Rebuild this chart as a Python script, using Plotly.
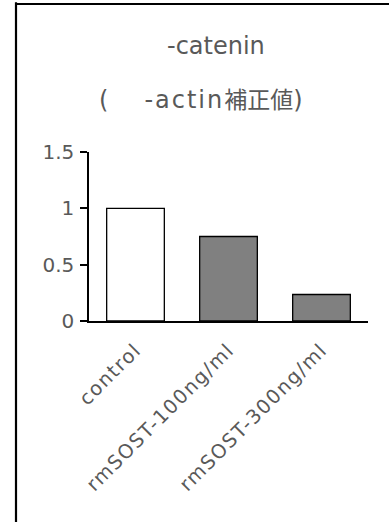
import plotly.graph_objects as go

categories = ["control", "rmSOST-100ng/ml", "rmSOST-300ng/ml"]
values = [1.0, 0.75, 0.235]
bar_colors = ["#FFFFFF", "#808080", "#808080"]
title_line1 = "-catenin"
title_line2_parts = ["(", "-actin", "補正値", ")"]
y_ticks = [0, 0.5, 1, 1.5]
y_tick_labels = ["0", "0.5", "1", "1.5"]

W, H = 389, 522
L, R, T, B = 89, 21, 152, 201
pw, ph = W - L - R, H - T - B

def px(x):
    return (x - L) / pw

def py(y):
    return (H - B - y) / ph

FONT = "DejaVu Sans, Liberation Sans, sans-serif"
GRAY = "#595959"

fig = go.Figure()
fig.add_trace(go.Bar(
    x=categories, y=values,
    marker=dict(color=bar_colors, line=dict(color="#000000", width=1.3)),
    width=0.62,
))

fig.update_layout(
    width=W, height=H,
    margin=dict(l=L, r=R, t=T, b=B),
    plot_bgcolor="white", paper_bgcolor="white",
    showlegend=False,
    font=dict(family=FONT, color=GRAY),
)
fig.update_yaxes(
    range=[0, 1.5], tickvals=y_ticks, ticktext=y_tick_labels,
    showgrid=False, zeroline=False,
    showline=True, linecolor="#000000", linewidth=1.5,
    ticks="outside", ticklen=7, tickcolor="#000000", tickwidth=1.5,
    tickfont=dict(size=20, color=GRAY, family=FONT), ticklabelstandoff=2,
)
fig.update_xaxes(
    range=[-0.5, 2.5],
    tickmode="array", tickvals=categories,
    ticktext=[f"<span style='letter-spacing:1.5px'>{c}</span>" for c in categories],
    showgrid=False, zeroline=False,
    showline=True, linecolor="#000000", linewidth=1.5,
    ticks="", tickangle=-45, ticklabelstandoff=8,
    tickfont=dict(size=19.5, color=GRAY, family=FONT),
)

fig.add_annotation(text=title_line1, xref="paper", yref="paper",
                   x=px(216), y=py(46), showarrow=False,
                   font=dict(size=24, color=GRAY, family=FONT), xanchor="center", yanchor="middle")
p0, p1, p2, p3 = title_line2_parts
line2 = (f"{p0}\u2003\u2002<span style='letter-spacing:2px'>{p1}</span>"
         f"<span style='font-size:23px'>{p2}</span>{p3}")
fig.add_annotation(text=line2, xref="paper", yref="paper",
                   x=px(201), y=py(100), showarrow=False,
                   font=dict(size=24, color=GRAY, family=FONT + ", Noto Sans CJK JP"),
                   xanchor="center", yanchor="middle")

# outer chart border (partially visible)
bx, by = px(16), py(4)
fig.add_shape(type="line", xref="paper", yref="paper", x0=bx, x1=bx, y0=-3, y1=by + 0.01,
              line=dict(color="#000000", width=2.2))
fig.add_shape(type="line", xref="paper", yref="paper", x0=bx, x1=3, y0=by, y1=by,
              line=dict(color="#000000", width=2.2))

fig.write_html("out.html", config={"displayModeBar": False},
               post_script="document.body.style.margin='0px';")
